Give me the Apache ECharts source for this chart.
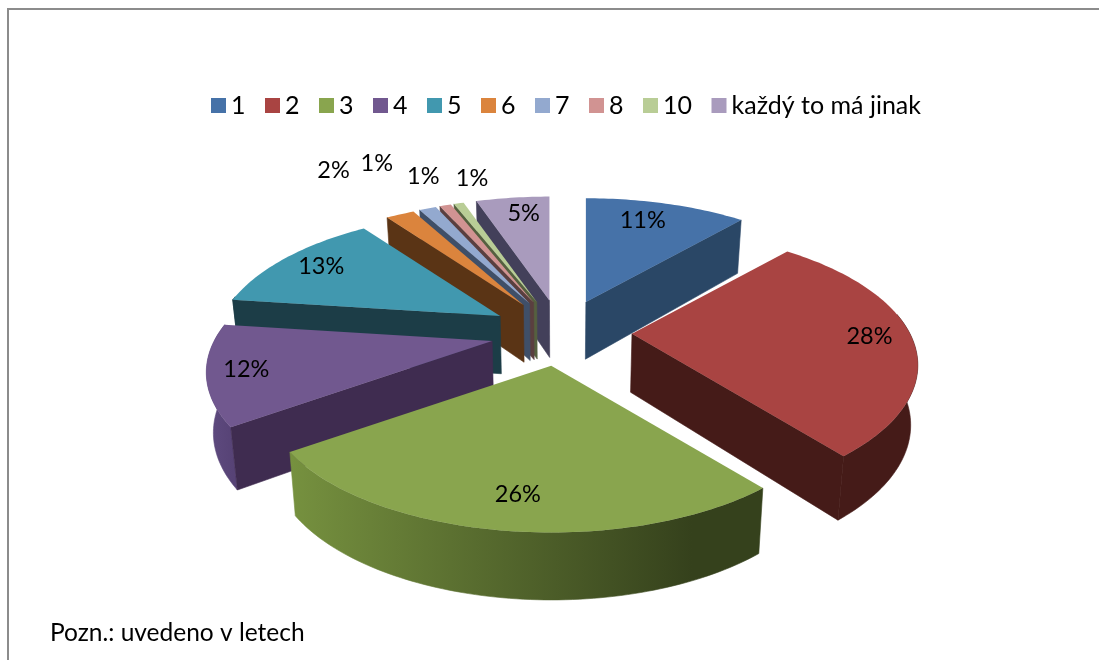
<!DOCTYPE html>
<html><head><meta charset="utf-8">
<style>html,body{margin:0;padding:0;background:#fff}#c{width:1099px;height:660px}</style>
<script src="https://cdn.jsdelivr.net/npm/echarts@6/dist/echarts.min.js"></script>
</head><body><div id="c"></div>
<script>
const categories = ['1','2','3','4','5','6','7','8','10','každý to má jinak'];
const values = [11.4,27.9,25.8,12,13,2,1.2,0.8,0.7,5.2];
const topColors = ['#4672a8','#a94442','#89a54e','#71588f','#4198af','#db843d','#93a9cf','#d19392','#b9cd96','#a99bbd'];
const sideColors = ['#2a4766','#451b18','#36431e','#3f2c50','#1c3d47','#5a3415','#3f4f68','#5a3f3f','#55603f','#43405a'];
const rimLight = ['#2a4766','#451b18','#76913f','#5f4b80','#1c3d47','#5a3415','#3f4f68','#5a3f3f','#55603f','#43405a'];
const rimDark  = ['#2a4766','#451b18','#35411c','#574376','#1c3d47','#5a3415','#3f4f68','#5a3f3f','#55603f','#43405a'];
const paintOrder = [0,9,8,7,6,5,4,1,3,2];
const labelReach = [[.71,.83],[.85,.85],[.67,.78],[.86,.87],[.84,.85],[1.54,1.48],[1.5,1.47],[1.25,1.3],[.83,1.25],[.7,.845]];

const total = values.reduce((a,b)=>a+b,0);
const starts = []; values.reduce((a,v,i)=>(starts[i]=a,a+v),0);
const CX=561, CY=333, EX=71, EY=33, RX=278, RY=128, K=0.2325, LEAN=0.98;
const rad = i => starts[i]/total*2*Math.PI;
const end = i => (starts[i]+values[i])/total*2*Math.PI;
function apex(i){const m=(rad(i)+end(i))/2;return [CX+EX*Math.sin(m),CY-EY*Math.cos(m)];}
function rim(i,a,t){const s=1/(1+K*Math.cos(a));const p=apex(i);
  const tx=t?t[0]:1, ty=t?t[1]:1;
  return [p[0]+tx*RX*Math.sin(a)*s,p[1]-ty*RY*Math.cos(a)*s];}
function low(p){return [CX+(p[0]-CX)*LEAN,p[1]+57+(p[1]-300)*0.045];}
function arc(i,a0,a1){const n=Math.max(2,Math.ceil((a1-a0)/0.02));const r=[];for(let j=0;j<=n;j++)r.push(rim(i,a0+(a1-a0)*j/n));return r;}

function makeSeries(i){
  return {type:'custom',name:categories[i],coordinateSystem:'none',z:2+paintOrder.indexOf(i),
    itemStyle:{color:topColors[i]},data:[values[i]],silent:true,
    renderItem(){
      const a0=rad(i),a1=end(i),p=apex(i),kids=[];
      const edge=arc(i,a0,a1);
      const f0=Math.max(a0,Math.PI*0.45),f1=Math.min(a1,Math.PI*1.55);
      if(f1>f0){const w=arc(i,f0,f1);const poly=w.concat(w.slice().reverse().map(low));
        const xs=poly.map(q=>q[0]);
        const fill=new echarts.graphic.LinearGradient(Math.min(...xs),0,Math.max(...xs),0,[{offset:0,color:rimLight[i]},{offset:0.85,color:rimDark[i]},{offset:1,color:rimDark[i]}],true);
        kids.push({type:'polygon',shape:{points:poly},style:{fill,stroke:fill,lineWidth:0.6}});}
      const wall=q=>({type:'polygon',shape:{points:[p,q,low(q),low(p)]},style:{fill:sideColors[i],stroke:sideColors[i],lineWidth:0.6}});
      if(Math.sin(a0)<-0.01)kids.push(wall(edge[0]));
      if(Math.sin(a1)>0.01)kids.push(wall(edge[edge.length-1]));
      kids.push({type:'polygon',shape:{points:[p].concat(edge)},style:{fill:topColors[i]}});
      return {type:'group',children:kids};
    }};
}
// Percent labels sit in their own top layer
const labelSeries={type:'custom',coordinateSystem:'none',z:30,silent:true,data:values,
  renderItem(params){const i=params.dataIndex;const m=(rad(i)+end(i))/2;const q=rim(i,m,labelReach[i]);
    return {type:'text',style:{text:Math.round(values[i])+'%',x:q[0],y:q[1],align:'center',verticalAlign:'middle',font:'23.5px Lato',fill:'#000'}};}};

const chart=echarts.init(document.getElementById('c'),null,{renderer:'canvas'});
chart.setOption({animation:false,backgroundColor:'#fff',
  legend:{left:206,top:88,icon:'rect',itemWidth:15,itemHeight:15,itemGap:19.5,selectedMode:false,
    data:categories,textStyle:{fontFamily:'Lato',fontSize:25,color:'#000'}},
  title:{text:'Pozn.: uvedeno v letech',left:45,top:616,textStyle:{fontFamily:'Lato',fontSize:24.5,fontWeight:'normal',color:'#000'}},
  graphic:[{type:'rect',shape:{x:8,y:9,width:1300,height:900},style:{fill:'none',stroke:'#8c8c8c',lineWidth:2},silent:true}],
  series:categories.map((c,i)=>makeSeries(i)).concat([labelSeries])});
</script></body></html>
